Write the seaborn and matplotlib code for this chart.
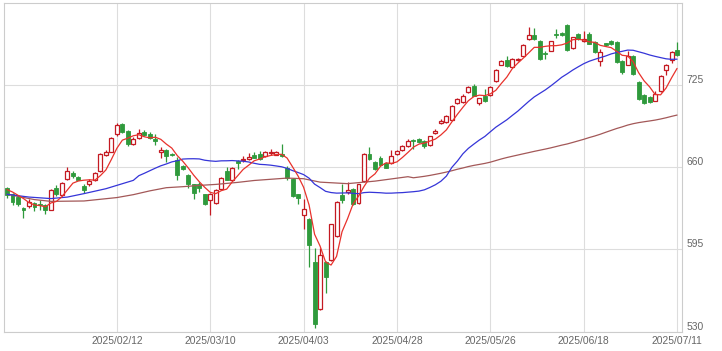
import matplotlib
matplotlib.use("Agg")
import matplotlib.pyplot as plt
import numpy as np
import pandas as pd
import seaborn as sns

# daily candles, one entry per trading day (index 0 .. 122)
OPEN = [643.2, 638.5, 636.4, 628.1, 629.1, 631.7, 630.6, 630.4, 626.5, 643.8,
        637.8, 650.4, 655.4, 652.2, 644.9, 647.0, 649.6, 656.7, 669.3, 672.4,
        685.9, 694.3, 689.0, 678.5, 683.2, 688.2, 686.4, 682.4, 672.4, 673.8,
        670.6, 665.4, 660.8, 653.5, 646.4, 647.0, 638.5, 633.8, 631.7, 643.0,
        656.7, 649.6, 664.8, 665.9, 666.7, 669.3, 670.1, 668.5, 671.1, 670.0,
        670.6, 659.6, 650.9, 638.5, 622.6, 619.4, 585.2, 547.7, 584.7, 586.5,
        605.5, 637.8, 640.1, 643.0, 631.7, 649.1, 670.1, 664.0, 667.5, 663.2,
        663.2, 670.6, 673.2, 676.4, 681.6, 682.4, 680.6, 677.7, 686.9, 694.7,
        695.5, 697.4, 710.5, 711.3, 719.2, 724.5, 710.8, 716.6, 717.1, 728.4,
        741.0, 744.9, 739.4, 744.8, 748.1, 761.2, 764.6, 759.9, 750.2, 752.0,
        765.4, 766.0, 772.5, 754.1, 765.2, 759.9, 765.2, 758.6, 744.1, 757.8,
        759.9, 759.1, 743.6, 741.0, 748.1, 727.0, 717.4, 715.2, 712.6, 720.0,
        736.8, 744.7, 752.6]
HIGH = [644.5, 640.0, 637.0, 628.8, 634.6, 632.5, 634.0, 631.0, 643.0, 646.0,
        648.5, 660.0, 657.0, 652.8, 647.0, 650.5, 656.5, 671.5, 673.5, 684.0,
        694.7, 695.0, 689.5, 684.0, 690.3, 689.5, 687.5, 686.0, 675.8, 674.5,
        671.5, 668.0, 661.5, 654.5, 647.0, 648.5, 639.0, 640.0, 643.0, 652.5,
        660.0, 660.5, 665.5, 669.0, 671.1, 671.9, 672.7, 673.0, 674.6, 672.5,
        678.0, 661.0, 651.5, 639.0, 635.2, 620.0, 595.8, 595.8, 585.5, 615.5,
        633.5, 647.0, 648.2, 643.5, 647.0, 671.5, 675.8, 665.0, 668.5, 664.0,
        673.2, 673.5, 677.5, 682.0, 682.5, 683.0, 681.5, 685.0, 690.5, 698.0,
        701.0, 709.5, 715.0, 717.5, 724.0, 725.5, 715.0, 721.8, 724.5, 738.0,
        744.5, 748.1, 746.5, 746.5, 757.5, 771.0, 769.9, 760.5, 752.0, 760.0,
        769.1, 767.0, 773.0, 763.0, 766.0, 767.8, 767.2, 759.5, 753.4, 758.5,
        760.5, 760.0, 744.5, 752.0, 748.8, 728.4, 718.0, 716.0, 720.5, 733.0,
        741.5, 751.5, 758.6]
LOW = [636.0, 630.5, 629.5, 620.2, 628.0, 625.4, 625.8, 622.8, 626.0, 637.5,
       637.0, 649.8, 651.5, 649.5, 639.6, 645.5, 649.0, 656.0, 668.5, 671.8,
       685.0, 687.0, 676.6, 677.5, 682.5, 684.5, 682.5, 677.5, 667.5, 664.0,
       668.5, 649.6, 658.0, 643.8, 635.2, 640.4, 630.5, 622.0, 631.0, 642.5,
       649.5, 649.0, 658.8, 664.0, 666.0, 667.0, 666.0, 668.0, 669.3, 669.5,
       668.0, 649.6, 636.5, 631.2, 611.5, 581.3, 532.7, 547.0, 560.3, 585.5,
       605.0, 632.0, 638.5, 630.5, 631.0, 648.5, 666.0, 658.0, 661.0, 659.0,
       662.5, 670.0, 672.5, 675.8, 674.6, 679.5, 675.4, 677.0, 686.0, 694.0,
       695.0, 697.0, 710.0, 710.8, 718.5, 716.0, 709.0, 711.5, 716.5, 727.5,
       740.5, 739.0, 739.0, 744.0, 747.5, 760.5, 760.5, 745.0, 745.5, 751.5,
       762.0, 763.5, 752.0, 753.5, 760.5, 759.0, 757.0, 750.0, 740.2, 756.0,
       756.8, 742.3, 734.0, 740.5, 733.0, 713.5, 709.8, 710.8, 712.0, 719.5,
       733.1, 742.3, 748.0]
CLOSE = [637.9, 632.5, 630.7, 626.5, 632.5, 628.6, 630.0, 626.0, 641.7, 638.5,
         647.5, 656.7, 652.7, 650.1, 641.7, 649.0, 655.4, 670.6, 672.4, 683.2,
         693.1, 687.6, 678.5, 681.9, 687.2, 685.1, 683.2, 681.1, 673.5, 668.5,
         669.3, 653.5, 658.8, 647.0, 639.6, 643.8, 631.2, 639.1, 641.7, 651.4,
         650.1, 659.6, 663.5, 666.7, 668.0, 667.5, 666.7, 672.2, 671.9, 671.7,
         668.5, 651.7, 637.2, 636.0, 627.3, 598.4, 536.1, 590.5, 573.4, 614.9,
         632.5, 633.8, 641.7, 631.2, 646.4, 670.6, 666.7, 658.8, 661.4, 659.6,
         668.5, 672.7, 676.4, 681.1, 680.6, 680.3, 677.0, 684.3, 689.0, 696.9,
         700.3, 708.7, 714.0, 716.6, 723.1, 716.6, 714.4, 712.1, 723.7, 737.0,
         743.6, 739.6, 745.5, 745.5, 756.8, 764.6, 761.2, 745.5, 749.4, 759.4,
         764.8, 764.4, 752.6, 762.5, 761.2, 761.7, 757.3, 750.7, 750.7, 756.5,
         757.3, 742.8, 734.9, 748.1, 733.7, 714.0, 710.5, 711.3, 717.9, 732.3,
         740.8, 750.7, 748.6]

# moving averages before the window is full
MA5_HEAD = [642.3, 640.4, 637.8, 635.2]
MA25_HEAD_IDX = [0, 4, 8, 11, 14, 18, 23]
MA25_HEAD = [638.6, 636.4, 635.2, 636.4, 639.1, 643.0, 649.6]
MA75_HEAD_IDX = [0, 5, 8, 14, 20, 23, 26, 29, 32, 35, 38, 42, 45, 51, 54, 57,
                 62, 67, 73]
MA75_HEAD = [638.6, 634.4, 633.0, 633.3, 636.0, 638.3, 641.3, 643.8, 644.6,
             645.6, 646.4, 648.0, 649.5, 651.4, 650.9, 648.2, 647.0, 649.0,
             652.5]

TICK_IDX = [20, 37, 54, 71, 88, 105, 122]
TICK_LABELS = ["2025/02/12", "2025/03/10", "2025/04/03", "2025/04/28",
               "2025/05/26", "2025/06/18", "2025/07/11"]
Y_TICKS = [530, 595, 660, 725]

UP_COLOR = "#c41a22"
DOWN_COLOR = "#2f9a3c"
MA5_COLOR = "#e8322c"
MA25_COLOR = "#3535d8"
MA75_COLOR = "#a35858"
GRID_COLOR = "#dddddd"
TEXT_COLOR = "#666666"


def moving_average(closes, window, head_idx, head_vals):
    full = pd.Series(closes).rolling(window).mean()
    idx = list(head_idx) + list(range(window - 1, len(closes)))
    vals = list(head_vals) + list(full.iloc[window - 1:])
    return idx, vals


sns.set_style("white")
plt.rcParams["font.family"] = ["Liberation Sans", "DejaVu Sans"]

df = pd.DataFrame({"open": OPEN, "high": HIGH, "low": LOW, "close": CLOSE})
df["idx"] = np.arange(len(df))
up = df[df["close"] >= df["open"]]
down = df[df["close"] < df["open"]]

fig = plt.figure(figsize=(7.22, 3.51), dpi=100)
ax = fig.add_axes([4 / 722, 19.3 / 351, 678 / 722, 329 / 351])

# wicks
ax.vlines(up["idx"], up["low"], up["high"], color=UP_COLOR, linewidth=0.9, zorder=2)
ax.vlines(down["idx"], down["low"], down["high"], color=DOWN_COLOR, linewidth=0.9, zorder=2)

# bodies
body_w = 0.72
ax.bar(up["idx"], up["close"] - up["open"], bottom=up["open"], width=body_w,
       facecolor="white", edgecolor=UP_COLOR, linewidth=0.9, zorder=3)
ax.bar(down["idx"], down["open"] - down["close"], bottom=down["close"], width=body_w,
       facecolor=DOWN_COLOR, edgecolor=DOWN_COLOR, linewidth=0.6, zorder=3)

# moving averages
ma5_idx, ma5 = moving_average(CLOSE, 5, range(4), MA5_HEAD)
ma25_idx, ma25 = moving_average(CLOSE, 25, MA25_HEAD_IDX, MA25_HEAD)
ma75_idx, ma75 = moving_average(CLOSE, 75, MA75_HEAD_IDX, MA75_HEAD)

sns.lineplot(x=ma75_idx, y=ma75, ax=ax, color=MA75_COLOR, linewidth=0.9, zorder=4)
sns.lineplot(x=ma25_idx, y=ma25, ax=ax, color=MA25_COLOR, linewidth=0.9, zorder=4)
sns.lineplot(x=ma5_idx, y=ma5, ax=ax, color=MA5_COLOR, linewidth=0.9, zorder=4)

ax.set_xlim(-0.55, 122.9)
ax.set_ylim(530, 790)

ax.set_xticks(TICK_IDX)
ax.set_xticklabels(TICK_LABELS)
ax.set_yticks(Y_TICKS)
ax.set_yticklabels([str(v) for v in Y_TICKS])
ax.yaxis.tick_right()
ax.tick_params(axis="both", length=0, labelsize=7.4, colors=TEXT_COLOR)
ax.tick_params(axis="x", pad=3)
ax.tick_params(axis="y", pad=3)
for lbl in ax.get_yticklabels():
    lbl.set_verticalalignment("bottom")

ax.grid(True, color=GRID_COLOR, linewidth=0.8)
ax.set_axisbelow(True)
for spine in ax.spines.values():
    spine.set_color("#cccccc")
    spine.set_linewidth(0.8)

ax.set_xlabel("")
ax.set_ylabel("")

fig.savefig("out.png", dpi=100)
